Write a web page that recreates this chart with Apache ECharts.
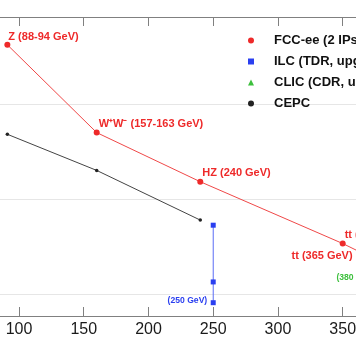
<!DOCTYPE html>
<html><head><meta charset="utf-8">
<script src="https://cdn.jsdelivr.net/npm/echarts@6/dist/echarts.min.js"></script>
<style>html,body{margin:0;padding:0;background:#fff}#c{width:356px;height:364px}</style>
</head><body><div id="c"></div>
<script>
// ---- data ----
const fccEnergy = [91, 160, 240, 350, 365];
const fccLumi = [420, 50, 15.2, 3.4, 2.7];
const fccLabels = ['Z (88-94 GeV)', 'W\u207AW\u207B (157-163 GeV)', 'HZ (240 GeV)', 'tt (350 GeV)', 'tt (365 GeV)'];
const cepcEnergy = [91, 160, 240];
const cepcLumi = [48, 20, 6.0];
const ilcEnergy = [250, 250, 250];
const ilcLumi = [0.81, 1.34, 5.3];
const ilcLabels = ['(250 GeV)', '', ''];
const clicEnergy = [380];
const clicLumi = [1.5];
const clicLabels = ['(380 GeV)'];
const seriesNames = ['FCC-ee (2 IPs)', 'ILC (TDR, upgrades)', 'CLIC (CDR, upgrades)', 'CEPC'];

const FONT = "'Liberation Sans', Arial, Helvetica, sans-serif";
const RED = '#ee2a2a', BLUE = '#2a3ff0', GREEN = '#3cbf3c', BLACK = '#222';

function pairs(xs, ys) { return xs.map((x, i) => [x, ys[i]]); }

const fccData = pairs(fccEnergy, fccLumi).map((v, i) => {
  const last = i === fccEnergy.length - 1;
  return {
    value: v,
    label: {
      show: true, formatter: fccLabels[i],
      position: last ? 'left' : 'right',
      offset: last ? [-1.5, 2.5] : (i === 0 ? [-7, -7.5] : [-6, -8.5]),
      color: RED, fontSize: 11, fontWeight: 'bold', fontFamily: FONT
    }
  };
});
const ilcData = pairs(ilcEnergy, ilcLumi).map((v, i) => ({
  value: v,
  label: { show: !!ilcLabels[i], formatter: ilcLabels[i], position: 'left', offset: [1.5, -2],
    color: BLUE, fontSize: 8.6, fontWeight: 'bold', fontFamily: FONT }
}));
const clicData = pairs(clicEnergy, clicLumi).map((v, i) => ({
  value: v,
  label: { show: true, formatter: clicLabels[i], position: 'left', offset: [2, 0],
    color: GREEN, fontSize: 8.6, fontWeight: 'bold', fontFamily: FONT }
}));

const pxPerUnit = 1.2948;
const gridLeft = 19 - (100 - 50) * pxPerUnit;
const gridWidth = (400 - 50) * pxPerUnit;
const gridRight = 356 - (gridLeft + gridWidth);
const AXIS_GRAY = '#808080';

function mainXAxis(position, showLabel) {
  return {
    type: 'value', min: 50, max: 400, interval: 50, position: position, gridIndex: 0,
    axisLine: { show: true, onZero: false, lineStyle: { color: AXIS_GRAY, width: 1 } },
    axisTick: { show: true, inside: true, length: 9, lineStyle: { color: AXIS_GRAY, width: 1 } },
    axisLabel: showLabel
      ? { show: true, fontSize: 16, color: '#1a1a1a', margin: 6, fontFamily: FONT }
      : { show: false },
    splitLine: { show: false }
  };
}
// thin tick bands (top and bottom): their vertical split lines act as the inward ticks of the frame
function tickBandXAxis(gridIndex) {
  return {
    type: 'value', min: 50, max: 400, interval: 50, gridIndex: gridIndex,
    axisLine: { show: false }, axisTick: { show: false }, axisLabel: { show: false },
    splitLine: { show: true, lineStyle: { color: AXIS_GRAY, width: 1 } }
  };
}
function tickBandYAxis(gridIndex) {
  return { type: 'value', gridIndex: gridIndex, min: 0, max: 1,
    axisLine: { show: false }, axisTick: { show: false }, axisLabel: { show: false }, splitLine: { show: false } };
}

const chart = echarts.init(document.getElementById('c'));
chart.setOption({
  animation: false,
  backgroundColor: '#fff',
  grid: [
    { left: gridLeft, right: gridRight, top: 17, bottom: 48, outerBoundsMode: 'none' },
    { left: gridLeft, right: gridRight, top: 17, height: 9, outerBoundsMode: 'none' },
    { left: gridLeft, right: gridRight, top: 307, height: 9, outerBoundsMode: 'none' }
  ],
  legend: {
    orient: 'vertical', left: 243, top: 29, itemWidth: 6, itemHeight: 6, itemGap: 8,
    textStyle: { fontSize: 13, fontWeight: 'bold', color: '#111', fontFamily: FONT, padding: [0, 0, 0, 15] },
    data: [
      { name: seriesNames[0], icon: 'circle' },
      { name: seriesNames[1], icon: 'rect' },
      { name: seriesNames[2], icon: 'triangle' },
      { name: seriesNames[3], icon: 'circle' }
    ]
  },
  xAxis: [
    mainXAxis('bottom', true),
    mainXAxis('top', false),
    tickBandXAxis(1),
    tickBandXAxis(2)
  ],
  yAxis: [
    {
      type: 'log', logBase: 10, min: 0.5868, max: 823.9, gridIndex: 0,
      axisLine: { show: false }, axisTick: { show: false }, axisLabel: { show: false },
      splitLine: { show: true, lineStyle: { color: '#e6e6e6', width: 1 } }
    },
    tickBandYAxis(1),
    tickBandYAxis(2)
  ],
  series: [
    { name: seriesNames[0], type: 'line', clip: false, data: fccData, symbol: 'circle', symbolSize: 6,
      itemStyle: { color: RED }, lineStyle: { color: '#f04848', width: 1 }, z: 4 },
    { name: seriesNames[1], type: 'line', clip: false, data: ilcData, symbol: 'rect', symbolSize: 5,
      itemStyle: { color: BLUE }, lineStyle: { color: '#5a6cf5', width: 1 }, z: 3 },
    { name: seriesNames[2], type: 'line', clip: false, data: clicData, symbol: 'triangle', symbolSize: 5,
      itemStyle: { color: GREEN }, lineStyle: { color: GREEN, width: 1 }, z: 3 },
    { name: seriesNames[3], type: 'line', clip: false, data: pairs(cepcEnergy, cepcLumi), symbol: 'circle', symbolSize: 3.5,
      itemStyle: { color: BLACK }, lineStyle: { color: '#444', width: 1 }, z: 3 }
  ]
});
</script></body></html>
